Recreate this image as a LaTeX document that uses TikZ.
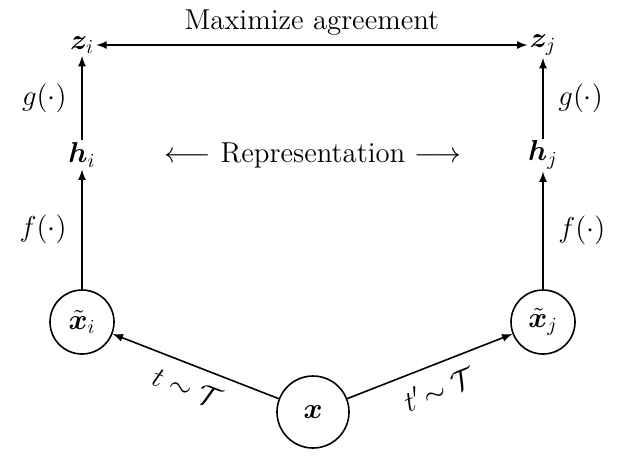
\documentclass[tikz,border=0pt]{standalone}
\usepackage{amsmath,amssymb,bm}
\begin{document}
\begin{tikzpicture}[x=0.5pt,y=-0.5pt,font=\Large,
  circ/.style={circle,draw,thick,minimum size=32pt,inner sep=0pt},
  lab/.style={inner sep=1pt},
  arr/.style={-latex,thick}]
\useasboundingbox (0,0) rectangle (624,457);
\node[lab] (zi) at (82,45) {$\bm{z}_i$};
\node[lab] (zj) at (543,45) {$\bm{z}_j$};
\node[lab] (hi) at (82,155) {$\bm{h}_i$};
\node[lab] (hj) at (543,155) {$\bm{h}_j$};
\node[circ] (xi) at (82,322) {$\tilde{\bm{x}}_i$};
\node[circ] (xj) at (543,322) {$\tilde{\bm{x}}_j$};
\node[circ,minimum size=36pt] (x) at (313,412) {$\bm{x}$};
\draw[latex-latex,thick] (zi) -- node[above=1pt] {Maximize agreement} (zj);
\node (rep) at (313,155) {$\longleftarrow$ Representation $\longrightarrow$};
\draw[arr] (hi) -- node[left=4pt] {$g(\cdot)$} (zi);
\draw[arr] (hj) -- node[right=4pt] {$g(\cdot)$} (zj);
\draw[arr] (xi) -- node[left=4pt] {$f(\cdot)$} (hi);
\draw[arr] (xj) -- node[right=4pt] {$f(\cdot)$} (hj);
\draw[arr] (x) -- node[below=3pt,sloped] {$t\sim\mathcal{T}$} (xi);
\draw[arr] (x) -- node[below=3pt,sloped] {$t^{\prime}\!\sim\mathcal{T}$} (xj);
\end{tikzpicture}
\end{document}
